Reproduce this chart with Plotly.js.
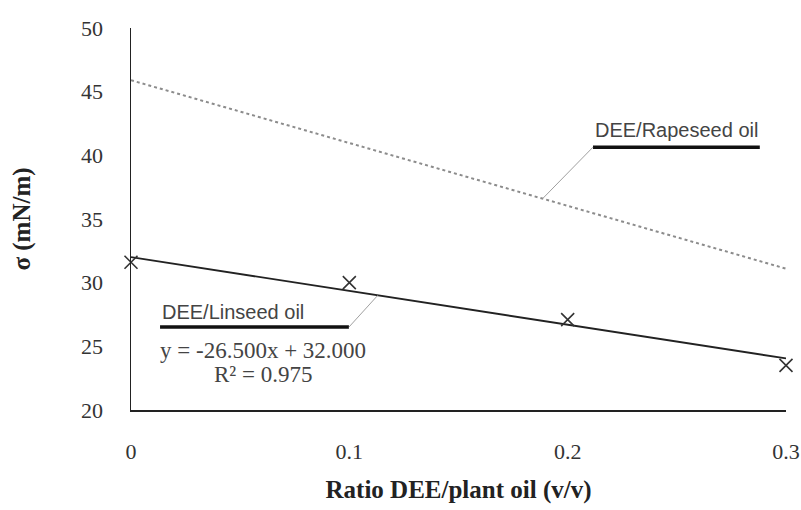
<!DOCTYPE html>
<html>
<head>
<meta charset="utf-8">
<script src="https://cdn.plot.ly/plotly-3.0.1.min.js"></script>
<style>html,body{margin:0;padding:0;background:#fff;}#chart{width:801px;height:510px;}</style>
</head>
<body>
<div id="chart"></div>
<script>
// Measured data: DEE/Linseed oil
const ratio = [0, 0.1, 0.2, 0.3];
const linseedSigma = [31.6, 30.0, 27.1, 23.5];
// Linear trendline for linseed (as printed on chart): y = -26.500x + 32.000
const trendX = [0, 0.3];
const trendY = [32.0, 24.05];
// DEE/Rapeseed oil dotted trendline
const rapeX = [0, 0.3];
const rapeY = [45.9, 31.1];
// Axis ticks
const xTicks = [0, 0.1, 0.2, 0.3];
const xTickText = ['0', '0.1', '0.2', '0.3'];
const yTicks = [20, 25, 30, 35, 40, 45, 50];

const serif = 'Liberation Serif, Times New Roman, serif';
const sans = 'Liberation Sans, Arial, sans-serif';

const traces = [
  {x: rapeX, y: rapeY, mode: 'lines', line: {color: '#8c8c8c', width: 2, dash: 'dot'}, hoverinfo: 'skip', cliponaxis: false},
  {x: trendX, y: trendY, mode: 'lines', line: {color: '#222', width: 1.8}, cliponaxis: false},
  {x: ratio, y: linseedSigma, mode: 'markers', cliponaxis: false,
   marker: {symbol: 'x-thin-open', size: 13, color: '#333', line: {color: '#333', width: 1.6}}}
];

const layout = {
  width: 801, height: 510,
  margin: {l: 131, r: 15, t: 28, b: 100},
  paper_bgcolor: '#fff', plot_bgcolor: '#fff',
  showlegend: false,
  xaxis: {
    range: [0, 0.3], tickvals: xTicks, ticktext: xTickText,
    showgrid: false, zeroline: false, showline: true, linecolor: '#222', linewidth: 1.5,
    ticks: '', ticklabelstandoff: 21,
    tickfont: {family: serif, size: 22, color: '#333'},
    title: {text: '<b>Ratio DEE/plant oil (v/v)</b>', font: {family: serif, size: 25, color: '#222'}, standoff: 17}
  },
  yaxis: {
    range: [20, 50], tickvals: yTicks,
    showgrid: false, zeroline: false, showline: true, linecolor: '#222', linewidth: 1.5,
    ticks: '', ticklabelstandoff: 22,
    tickfont: {family: serif, size: 22, color: '#333'},
    title: {text: '<b>σ (mN/m)</b>', font: {family: serif, size: 25, color: '#222'}, standoff: 43}
  },
  shapes: [
    {type: 'line', xref: 'x', yref: 'y', x0: 0.2116, y0: 40.64, x1: 0.288, y1: 40.64, line: {color: '#111', width: 3.5}},
    {type: 'line', xref: 'x', yref: 'y', x0: 0.2116, y0: 40.64, x1: 0.1887, y1: 36.63, line: {color: '#a0a0a0', width: 1}},
    {type: 'line', xref: 'x', yref: 'y', x0: 0.0133, y0: 26.51, x1: 0.0998, y1: 26.51, line: {color: '#111', width: 3.5}},
    {type: 'line', xref: 'x', yref: 'y', x0: 0.0998, y0: 26.51, x1: 0.113, y1: 29.0, line: {color: '#a0a0a0', width: 1}}
  ],
  annotations: [
    {x: 0.2116, y: 41.98, xref: 'x', yref: 'y', xanchor: 'left', yanchor: 'middle', showarrow: false,
     text: 'DEE/Rapeseed oil', font: {family: sans, size: 20, color: '#444'}},
    {x: 0.0133, y: 27.7, xref: 'x', yref: 'y', xanchor: 'left', yanchor: 'middle', showarrow: false,
     text: 'DEE/Linseed oil', font: {family: sans, size: 20, color: '#444'}},
    {x: 0.0605, y: 24.71, xref: 'x', yref: 'y', xanchor: 'center', yanchor: 'middle', showarrow: false,
     text: 'y = -26.500x + 32.000', font: {family: serif, size: 23, color: '#444'}},
    {x: 0.0605, y: 22.75, xref: 'x', yref: 'y', xanchor: 'center', yanchor: 'middle', showarrow: false,
     text: 'R² = 0.975', font: {family: serif, size: 23, color: '#444'}}
  ]
};

Plotly.newPlot('chart', traces, layout, {displayModeBar: false, staticPlot: true});
</script>
</body>
</html>
